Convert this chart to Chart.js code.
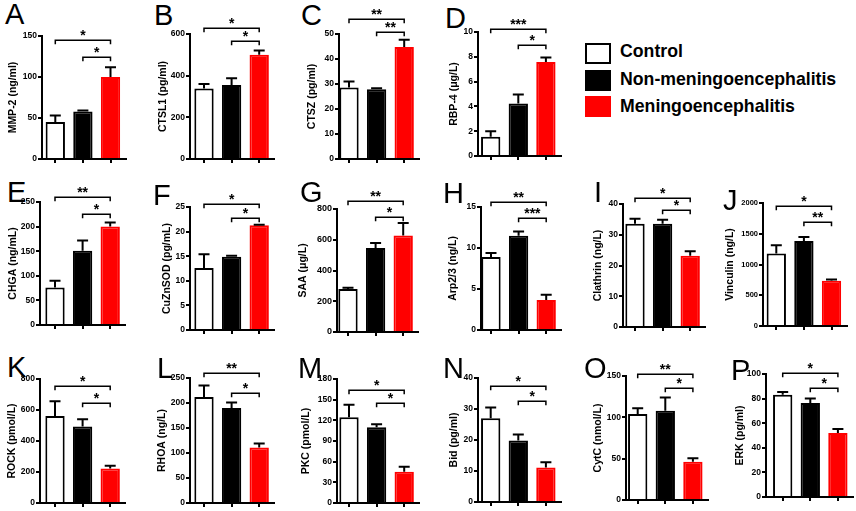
<!DOCTYPE html>
<html lang="en">
<head>
<meta charset="UTF-8">
<title>Serum markers by group</title>
<style>
    html, body { margin: 0; padding: 0; background: #fff; }
    body {
        width: 856px; height: 511px;
        position: relative; overflow: hidden;
        font-family: "Liberation Sans", Arial, sans-serif;
        color: #000;
    }
    canvas { position: absolute; }
    .letter { position: absolute; font-size: 29px; line-height: 29px; }
    .key { position: absolute; left: 585px; width: 26px; height: 21px; box-sizing: border-box; }
    .keytext {
        position: absolute; left: 620px;
        font-weight: bold; font-size: 17.7px; line-height: 17.7px;
        white-space: nowrap;
    }
</style>
</head>
<body>

<!-- legend -->
<div class="key" style="top:43px; background:#fff; border:2px solid #000;"></div>
<div class="keytext" style="top:43px;">Control</div>
<div class="key" style="top:70px; background:#000;"></div>
<div class="keytext" style="top:71px;">Non-meningoencephalitis</div>
<div class="key" style="top:96px; background:#f00;"></div>
<div class="keytext" style="top:98px;">Meningoencephalitis</div>

<script src="https://cdn.jsdelivr.net/npm/chart.js"></script>
<script>
const groups = ['Control', 'Non-meningoencephalitis', 'Meningoencephalitis'];
const panelLetters = ['A', 'B', 'C', 'D', 'E', 'F', 'G', 'H', 'I', 'J', 'K', 'L', 'M', 'N', 'O', 'P'];
const yTitles = ['MMP-2 (ng/ml)', 'CTSL1 (pg/ml)', 'CTSZ (pg/ml)', 'RBP-4 (μg/L)',
    'CHGA (ng/mL)', 'CuZnSOD (pg/mL)', 'SAA (μg/L)', 'Arp2/3 (ng/L)', 'Clathrin (ng/L)', 'Vinculin (ng/L)',
    'ROCK (pmol/L)', 'RHOA (ng/L)', 'PKC (pmol/L)', 'Bid (pg/ml)', 'CytC (nmol/L)', 'ERK (pg/ml)'];

// group means and upper error (SEM), one entry per panel A..P
const controlMean = [45, 339, 28.6, 1.55, 76, 12.6, 280, 8.9, 33.6, 1178, 562, 212, 124.5, 27, 104, 83.2];
const controlSem  = [8.2, 21, 2.4, 0.45, 14, 2.8, 8, 0.5, 1.6, 136, 95, 23, 18, 3.5, 7, 2.2];
const nonMean     = [58, 355, 27.9, 4.24, 151, 14.9, 546, 11.5, 33.6, 1384, 493, 190, 110, 19.8, 108, 76.4];
const nonSem      = [1.2, 33, 0.4, 0.72, 21, 0.2, 33, 0.5, 1.3, 65, 48, 11, 4.3, 2, 16, 3.6];
const menMean     = [100, 500, 44.8, 7.59, 200, 21.3, 628, 3.67, 23.2, 735, 223, 111, 45.2, 11.1, 46.4, 52];
const menSem      = [12, 21, 2.9, 0.35, 8.5, 0.1, 81, 0.63, 1.4, 22, 17, 8, 7.3, 1.7, 4, 3.3];

// y axis range and tick step
const yMax  = [150, 600, 50, 10, 250, 25, 800, 15, 40, 2000, 800, 250, 180, 40, 150, 100];
const yStep = [50, 200, 10, 2, 50, 5, 200, 5, 10, 500, 200, 50, 30, 10, 50, 20];

// significance: control vs meningo (outer) and non-meningo vs meningo (inner)
const starsOuter = ['*', '*', '**', '***', '**', '*', '**', '**', '*', '*', '*', '**', '*', '*', '**', '*'];
const starsInner = ['*', '*', '**', '*', '*', '*', '*', '***', '*', '**', '*', '*', '*', '*', '*', '*'];
const outerLevel = [144.7, 629, 56, 10.27, 259.5, 25.7, 850, 15.6, 42, 1951, 752, 260, 164.4, 37.3, 153, 100.8];
const innerLevel = [124.4, 565, 51, 8.93, 225.6, 22.8, 746, 13.7, 38.2, 1692, 644, 221, 145, 32.6, 135, 88.6];

// page layout: [axis x, top px, zero px, first bar offset, title offset, tick font px]
const frames = [
    [42, 36, 159, 13.3, 28.7, 8.5], [190, 34, 159, 14, 27, 8.5], [339, 34, 159, 10, 27, 8.5], [478, 32, 156, 12.7, 24, 8.5],
    [40, 202, 325, 15, 26.7, 8.5], [190, 207, 330, 14, 23.3, 8.5], [337, 209, 332, 11, 34, 9], [481, 207, 330, 10, 27.7, 8.5],
    [623, 204, 327, 12, 25, 8.5], [763, 203, 326, 13.3, 33, 7.5],
    [40, 379, 503, 15, 27.7, 8.5], [190, 378, 503, 14, 28.3, 8.5], [337, 379, 503, 12, 30.7, 8.5], [478, 378, 502, 12.7, 24.3, 8.5],
    [626, 376, 500, 11.7, 28.3, 8.5], [766, 374, 497, 16.7, 26, 8.5]
];
// panel letter [left, cap top]
const letterPos = [
    [5, 4], [154, 5], [301, 5], [445, 8], [7, 182], [153, 185], [300, 182], [443, 183],
    [594, 182], [723, 190], [7, 357], [157, 358], [298, 358], [443, 358], [584, 358], [731, 360]
];

const FONT = '"Liberation Sans", Arial, sans-serif';
const SPACING = 27.6;   // px between bar centres
const YW = 46;          // y axis box width
const XH = 8;           // x axis box height
const TP = 40;          // room above plot for brackets
const RP = 4;

function makeOverlay(i) {
    return {
        id: 'overlay' + i,
        afterDatasetsDraw(chart) {
            const ctx = chart.ctx;
            const xs = chart.scales.x, ys = chart.scales.y;
            const means = [controlMean[i], nonMean[i], menMean[i]];
            const sems = [controlSem[i], nonSem[i], menSem[i]];
            ctx.save();
            ctx.strokeStyle = '#000';
            ctx.fillStyle = '#000';
            // error bars (upper only)
            ctx.lineWidth = 2;
            chart.getDatasetMeta(0).data.forEach((bar, k) => {
                const y0 = ys.getPixelForValue(means[k]);
                const y1 = ys.getPixelForValue(means[k] + sems[k]);
                ctx.beginPath();
                ctx.moveTo(bar.x, y0);
                ctx.lineTo(bar.x, y1);
                ctx.moveTo(bar.x - 5.5, y1);
                ctx.lineTo(bar.x + 5.5, y1);
                ctx.stroke();
            });
            // significance brackets
            ctx.lineWidth = 1.5;
            ctx.font = 'bold 14px ' + FONT;
            ctx.textAlign = 'center';
            ctx.textBaseline = 'alphabetic';
            const bracket = (from, to, level, label) => {
                const y = Math.round(ys.getPixelForValue(level)) + 0.25;
                const x1 = xs.getPixelForValue(from), x2 = xs.getPixelForValue(to);
                ctx.beginPath();
                ctx.moveTo(x1, y + 4);
                ctx.lineTo(x1, y);
                ctx.lineTo(x2, y);
                ctx.lineTo(x2, y + 4);
                ctx.stroke();
                ctx.fillText(label, (x1 + x2) / 2, y - 0.5);
            };
            bracket(0, 2, outerLevel[i], starsOuter[i]);
            bracket(1, 2, innerLevel[i], starsInner[i]);
            ctx.restore();
        }
    };
}

function buildPanel(i) {
    const [ax, top, zero, firstOff, titleOff, tickPx] = frames[i];
    const plotH = zero - top;
    const plotW = Math.round(firstOff + 2 * SPACING + 15);

    const lt = document.createElement('div');
    lt.className = 'letter';
    lt.textContent = panelLetters[i];
    lt.style.left = letterPos[i][0] + 'px';
    lt.style.top = (letterPos[i][1] - 3.8) + 'px';
    document.body.appendChild(lt);

    const cv = document.createElement('canvas');
    cv.width = YW + plotW + RP;
    cv.height = TP + plotH + XH;
    cv.style.left = (ax - YW) + 'px';
    cv.style.top = (top - TP) + 'px';
    document.body.appendChild(cv);

    const means = [controlMean[i], nonMean[i], menMean[i]];
    const xMin = -firstOff / SPACING;
    const axisLine = { color: '#000', width: 2 };
    const tickMarks = { drawOnChartArea: false, drawTicks: true, tickLength: 4, color: '#000', lineWidth: 2, offset: false };

    new Chart(cv, {
        type: 'bar',
        data: {
            datasets: [{
                label: yTitles[i],
                data: means.map((v, k) => ({ x: k, y: v })),
                backgroundColor: ['#ffffff', '#000000', '#ff0000'],
                borderColor: ['#000000', '#000000', '#ff0000'],
                borderWidth: 2,
                barPercentage: 0.7,
                categoryPercentage: 1
            }]
        },
        options: {
            responsive: false,
            animation: false,
            events: [],
            layout: { padding: { top: TP, right: RP, left: 0, bottom: 0 } },
            plugins: { legend: { display: false }, tooltip: { enabled: false } },
            scales: {
                x: {
                    type: 'linear',
                    offset: false,
                    min: xMin,
                    max: xMin + plotW / SPACING,
                    afterBuildTicks: s => { s.ticks = [0, 1, 2].map(v => ({ value: v })); },
                    afterFit: s => { s.height = XH; },
                    ticks: { display: false },
                    grid: tickMarks,
                    border: axisLine
                },
                y: {
                    min: 0,
                    max: yMax[i],
                    afterFit: s => { s.width = YW; },
                    ticks: {
                        stepSize: yStep[i],
                        padding: 1,
                        color: '#000',
                        font: { family: FONT, weight: 'bold', size: tickPx },
                        callback: v => String(v)
                    },
                    grid: tickMarks,
                    border: axisLine,
                    title: {
                        display: true,
                        text: yTitles[i],
                        color: '#000',
                        font: { family: FONT, weight: 'bold', size: 10.5 },
                        padding: { top: YW - titleOff - 6.3, bottom: 0 }
                    }
                }
            }
        },
        plugins: [makeOverlay(i)]
    });
}

panelLetters.forEach((_, i) => buildPanel(i));
</script>
</body>
</html>
